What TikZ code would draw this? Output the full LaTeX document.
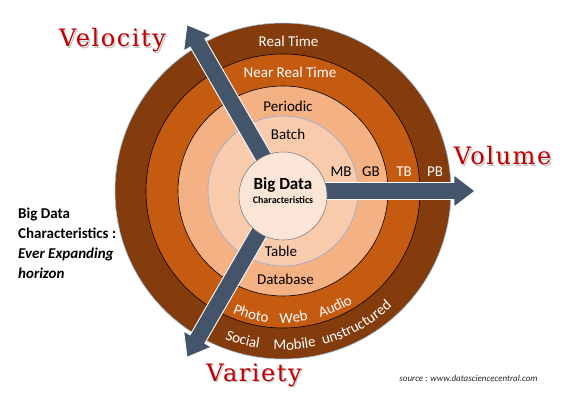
\documentclass[tikz,border=0pt]{standalone}
\usepackage{fontspec}
\setmainfont{Carlito}
\newfontfamily\axisfont[LetterSpace=6.5]{DejaVu Serif}
\usetikzlibrary{decorations.text,calc}

\definecolor{ringOuter}{HTML}{843C0C}
\definecolor{ringMid}{HTML}{C55A11}
\definecolor{ringLight}{HTML}{F4B183}
\definecolor{ringPale}{HTML}{F8CBAD}
\definecolor{coreFill}{HTML}{FBE5D6}
\definecolor{axisBlue}{HTML}{44546A}
\definecolor{axisRed}{HTML}{C00000}
\definecolor{edgeBlue}{HTML}{9DC3E6}
\definecolor{paleEdge}{HTML}{8FAADC}

\begin{document}
\begin{tikzpicture}[x=1pt,y=1pt,
  lbl/.style={font=\fontsize{15}{18}\selectfont, inner sep=0pt, anchor=base},
  wlbl/.style={lbl, text=white},
  axislabel/.style={font=\axisfont\fontsize{24}{28}\selectfont, text=axisRed, inner sep=0pt, anchor=base},
  axisshadow/.style={axislabel, text=black!22},
  axisarrow/.style={fill=axisBlue, draw=white, line width=0.9pt, line join=miter},
  ringline/.style={line width=0.6pt}
]
\useasboundingbox (0,0) rectangle (569,404);

\coordinate (c) at (283,213);

% concentric rings, outermost first
\filldraw[ringline, fill=ringOuter, draw=edgeBlue] (c) circle[radius=168pt];
\filldraw[ringline, fill=ringMid, draw=black] (c) circle[radius=137pt];
\filldraw[ringline, fill=ringLight, draw=black] (c) circle[radius=105pt];
\filldraw[ringline, fill=ringPale, draw=paleEdge] (c) circle[radius=75pt];

% the three growth axes
\foreach \ang in {0,120,240}
  \filldraw[axisarrow, shift={(c)}, rotate=\ang]
    (0,-8.5) -- (171,-8.5) -- (171,-16) -- (192,0) -- (171,16) -- (171,8.5) -- (0,8.5) -- cycle;

% core
\node[circle, fill=coreFill, draw=black!50, line width=0.6pt, minimum size=88pt, inner sep=0pt] (core) at (283,208) {};
\node[lbl, font=\fontsize{17}{20}\selectfont\bfseries] (bigdata) at (283,214) {Big Data};
\node[lbl, font=\fontsize{10}{12}\selectfont\bfseries] (chars) at (283,200) {Characteristics};

% velocity scale
\node[wlbl] (realtime) at (288.5,357) {Real Time};
\node[wlbl] (nearreal) at (290,326) {Near Real Time};
\node[lbl] (periodic) at (288,292) {Periodic};
\node[lbl] (batch) at (288,264) {Batch};

% volume scale
\node[lbl] (mb) at (341,227) {MB};
\node[lbl] (gb) at (371,227) {GB};
\node[wlbl] (tb) at (404,227) {TB};
\node[wlbl] (pb) at (435,227) {PB};

% variety scale
\node[lbl] (table) at (281,147) {Table};
\node[lbl] (database) at (285.5,119) {Database};

\path[decorate, decoration={text along path, text align=center, text color=white,
    text={|\fontsize{15}{18}\selectfont|Photo}}]
  ([shift={(-129.5:132)}]c) arc[start angle=-129.5, end angle=-79.5, radius=132pt];
\path[decorate, decoration={text along path, text align=center, text color=white,
    text={|\fontsize{15}{18}\selectfont|Web}}]
  ([shift={(-110.2:132)}]c) arc[start angle=-110.2, end angle=-60.2, radius=132pt];
\path[decorate, decoration={text along path, text align=center, text color=white,
    text={|\fontsize{15}{18}\selectfont|Audio}}]
  ([shift={(-90.8:132)}]c) arc[start angle=-90.8, end angle=-40.8, radius=132pt];
\path[decorate, decoration={text along path, text align=center, text color=white,
    text={|\fontsize{15}{18}\selectfont|Social}}]
  ([shift={(-130.1:159)}]c) arc[start angle=-130.1, end angle=-80.1, radius=159pt];
\path[decorate, decoration={text along path, text align=center, text color=white,
    text={|\fontsize{15}{18}\selectfont|Mobile}}]
  ([shift={(-110.7:159)}]c) arc[start angle=-110.7, end angle=-60.7, radius=159pt];
\path[decorate, decoration={text along path, text align=center, text color=white,
    text={|\fontsize{15}{18}\selectfont|unstructured}}]
  ([shift={(-91:159)}]c) arc[start angle=-91, end angle=-31, radius=159pt];

% axis titles with soft shadow
\node[axisshadow] at (114,355.5) {Velocity};
\node[axislabel] (velocity) at (112.5,357) {Velocity};
\node[axisshadow] at (504,237.5) {Volume};
\node[axislabel] (volume) at (502.5,239) {Volume};
\node[axisshadow] at (255.5,21.5) {Variety};
\node[axislabel] (variety) at (254,23) {Variety};

% caption and credit
\node[font=\fontsize{15}{20}\selectfont\bfseries, align=left, anchor=north west, inner sep=0pt] (caption)
  at (18,196) {Big Data\\Characteristics :\\\textit{Ever Expanding}\\\textit{horizon}};
\node[font=\fontsize{9}{11}\selectfont\itshape, text=black!85, inner sep=0pt, anchor=base] (source)
  at (468.5,23) {source : www.datasciencecentral.com};
\end{tikzpicture}
\end{document}
